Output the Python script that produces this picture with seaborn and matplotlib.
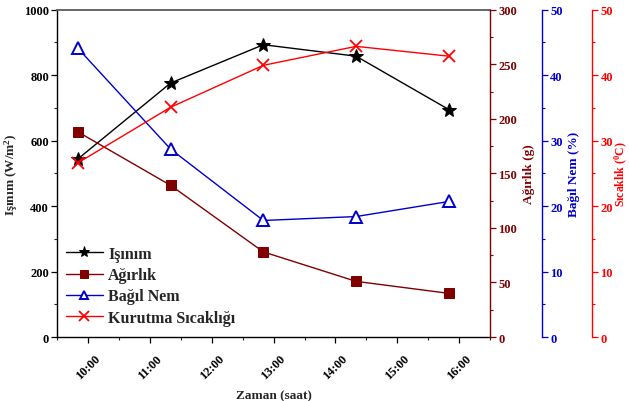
import matplotlib
matplotlib.use("Agg")
import matplotlib.pyplot as plt
import seaborn as sns
import pandas as pd
from matplotlib.ticker import MultipleLocator

# ---- data ----
times = ["09:50", "11:20", "12:50", "14:20", "15:50"]
isinim = [544, 776, 893, 858, 695]          # W/m2
agirlik = [188, 139, 78, 51, 40]            # g
bagil_nem = [44.1, 28.7, 17.8, 18.4, 20.7]  # %
sicaklik = [26.6, 35.1, 41.5, 44.4, 42.9]   # C
tick_labels = ["10:00", "11:00", "12:00", "13:00", "14:00", "15:00", "16:00"]

hours = [int(t.split(":")[0]) + int(t.split(":")[1]) / 60 for t in times]
df = pd.DataFrame({"saat": hours, "isinim": isinim, "agirlik": agirlik,
                   "nem": bagil_nem, "sicaklik": sicaklik})

sns.set_theme(style="ticks")
plt.rcParams["font.family"] = ["Liberation Serif", "DejaVu Serif"]
plt.rcParams["font.weight"] = "bold"
plt.rcParams["mathtext.fontset"] = "custom"
plt.rcParams["mathtext.rm"] = "Liberation Serif:bold"
plt.rcParams["mathtext.bf"] = "Liberation Serif:bold"
plt.rcParams["mathtext.it"] = "Liberation Serif:bold"

BLACK = "#000000"
MAROON = "#800000"
BLUE = "#0000cc"
RED = "#ff0000"

fig = plt.figure(figsize=(6.29, 4.02), dpi=100)
ax = fig.add_axes([0.0911, 0.1592, 0.6879, 0.8142])
ax2 = ax.twinx()
ax3 = ax.twinx()
ax4 = ax.twinx()

sns.lineplot(data=df, x="saat", y="isinim", ax=ax, color=BLACK, lw=1.0,
             marker="*", markersize=10, markeredgecolor=BLACK, label="Işınım", legend=False)
sns.lineplot(data=df, x="saat", y="agirlik", ax=ax2, color=MAROON, lw=1.0,
             marker="s", markersize=7, markeredgecolor=MAROON, label="Ağırlık", legend=False)
sns.lineplot(data=df, x="saat", y="nem", ax=ax3, color=BLUE, lw=1.0,
             marker="^", markersize=8, markerfacecolor="white", markeredgecolor=BLUE,
             markeredgewidth=1.4, label="Bağıl Nem", legend=False)
sns.lineplot(data=df, x="saat", y="sicaklik", ax=ax4, color=RED, lw=1.0,
             marker="x", markersize=9, markeredgecolor=RED, markeredgewidth=1.3,
             label="Kurutma Sıcaklığı", legend=False)

# x axis
ax.set_xlim(9.5, 16.5)
ax.set_xticks(range(10, 17))
ax.set_xticklabels(tick_labels, rotation=45, ha="center", fontsize=9, fontweight="bold")
ax.xaxis.set_minor_locator(MultipleLocator(0.5))
ax.set_xlabel("Zaman (saat)", fontsize=9.5, fontweight="bold", labelpad=6)

# left axis
ax.set_ylim(0, 1000)
ax.yaxis.set_major_locator(MultipleLocator(200))
ax.yaxis.set_minor_locator(MultipleLocator(100))
ax.set_ylabel("Işınım (W/m$^{2}$)", fontsize=9.5, fontweight="bold", labelpad=3)
for lab in ax.get_yticklabels():
    lab.set_fontsize(9)
    lab.set_fontweight("bold")

# right axes
ax2.set_ylim(0, 300)
ax2.yaxis.set_major_locator(MultipleLocator(50))
ax2.yaxis.set_minor_locator(MultipleLocator(25))
ax3.set_ylim(0, 50)
ax3.yaxis.set_major_locator(MultipleLocator(10))
ax3.yaxis.set_minor_locator(MultipleLocator(5))
ax4.set_ylim(0, 50)
ax4.yaxis.set_major_locator(MultipleLocator(10))
ax4.yaxis.set_minor_locator(MultipleLocator(5))

ax3.spines["right"].set_position(("axes", 1.1195))
ax4.spines["right"].set_position(("axes", 1.236))

for a in (ax, ax2, ax3, ax4):
    a.tick_params(which="major", direction="out", length=4, width=0.9, pad=2)
    a.tick_params(which="minor", direction="out", length=2.5, width=0.8)
ax.tick_params(axis="x", which="major", pad=7)

for a in (ax2, ax3, ax4):
    a.spines["top"].set_visible(False)
    a.spines["left"].set_visible(False)
    a.spines["bottom"].set_visible(False)
    a.set_xlabel("")

ax.spines["right"].set_visible(False)
ax.spines["top"].set_color("#5a5a5a")
ax.spines["top"].set_linewidth(1.3)
ax.spines["left"].set_color(BLACK)
ax.spines["bottom"].set_color(BLACK)
ax.spines["left"].set_linewidth(1.0)
ax.spines["bottom"].set_linewidth(1.0)
ax.tick_params(axis="both", colors=BLACK)

for a, col, lab, pad, fs in ((ax2, MAROON, "Ağırlık (g)", 4, 9.5),
                             (ax3, BLUE, "Bağıl Nem (%)", 4, 9.5),
                             (ax4, RED, "Sıcaklık ($^{0}$C)", 0.2, 8.5)):
    a.spines["right"].set_color(col)
    a.spines["right"].set_linewidth(1.0)
    a.tick_params(axis="y", which="both", colors=col)
    for t in a.get_yticklabels():
        t.set_color(col)
        t.set_fontsize(9)
        t.set_fontweight("bold")
    a.set_ylabel(lab, color=col, fontsize=fs, fontweight="bold", labelpad=pad)

# legend
handles, labels = [], []
for a in (ax, ax2, ax3, ax4):
    h, l = a.get_legend_handles_labels()
    handles += h
    labels += l
leg = ax4.legend(handles, labels, loc="lower left", bbox_to_anchor=(0.005, 0.015),
                 bbox_transform=ax.transAxes, frameon=False, borderaxespad=0,
                 handlelength=2.3, handletextpad=0.35, labelspacing=0.33,
                 markerscale=0.8,
                 prop={"family": "Liberation Serif", "weight": "bold", "size": 11.5})

fig.savefig("out.png", dpi=100)
